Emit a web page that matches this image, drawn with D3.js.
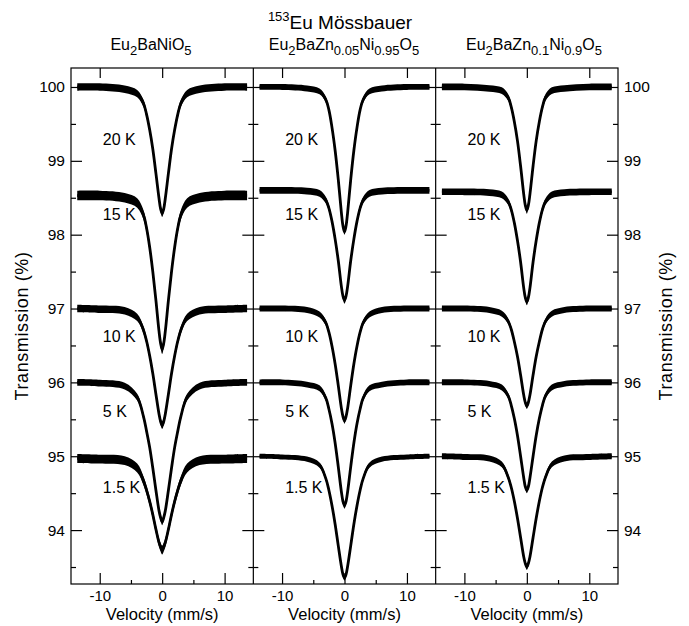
<!DOCTYPE html>
<html lang="en">
<meta charset="UTF-8">
<style>
    body { margin:0; background:#fff; }
    text { font-family:"Liberation Sans", Arial, Helvetica, sans-serif; fill:#000; }
    .frame { fill:none; stroke:#000; stroke-width:1.2; }
    .tick line { stroke:#000; stroke-width:1.2; }
</style>
<body>
<div id="chart"></div>
<script src="https://cdn.jsdelivr.net/npm/d3@7"></script>
<script>
    var velocity = [-13.6,-10,-6,-4,-3,-2.5,-2,-1.5,-1,-0.5,-0.25,0,0.25,0.5,1,1.5,2,2.5,3,4,6,10,13.6];
    var temps = ["20 K","15 K","10 K","5 K","1.5 K"];
    var xTicks = [-10,0,10];
    var xMinor = [-5,5];
    var yTicks = [94,95,96,97,98,99,100];
    var yMinor = [93.5,94.5,95.5,96.5,97.5,98.5,99.5];

    // Eu2BaNiO5, transmission (%)
    var ni_20 = [100,100,99.97,99.91,99.78,99.63,99.42,99.16,98.83,98.49,98.35,98.29,98.35,98.49,98.83,99.16,99.42,99.63,99.78,99.91,99.97,100,100];
    var ni_15 = [98.53,98.53,98.50,98.43,98.27,98.09,97.83,97.50,97.11,96.69,96.53,96.45,96.53,96.69,97.11,97.50,97.83,98.09,98.27,98.43,98.50,98.53,98.53];
    var ni_10 = [97,96.99,96.97,96.88,96.71,96.56,96.36,96.12,95.84,95.57,95.47,95.42,95.47,95.57,95.84,96.12,96.36,96.56,96.71,96.88,96.97,96.99,97];
    var ni_5  = [96,95.99,95.95,95.80,95.54,95.34,95.12,94.84,94.54,94.26,94.17,94.11,94.17,94.26,94.54,94.84,95.12,95.34,95.54,95.80,95.95,95.99,96];
    var ni_1  = [94.97,94.96,94.94,94.84,94.67,94.54,94.39,94.21,94.01,93.83,93.77,93.73,93.77,93.83,94.01,94.21,94.39,94.54,94.67,94.84,94.94,94.96,94.97];
    var ni_scatter = [0.05,0.065,0.05,0.045,0.06];

    // Eu2BaZn0.05Ni0.95O5
    var zn05_20 = [100,100,99.98,99.94,99.83,99.69,99.45,99.14,98.75,98.30,98.12,98.04,98.12,98.30,98.75,99.14,99.45,99.69,99.83,99.94,99.98,100,100];
    var zn05_15 = [98.6,98.6,98.59,98.56,98.47,98.36,98.18,97.94,97.65,97.30,97.17,97.11,97.17,97.30,97.65,97.94,98.18,98.36,98.47,98.56,98.59,98.6,98.6];
    var zn05_10 = [97,97,96.98,96.92,96.81,96.68,96.49,96.25,95.96,95.65,95.54,95.48,95.54,95.65,95.96,96.25,96.49,96.68,96.81,96.92,96.98,97,97];
    var zn05_5  = [96,96,95.97,95.92,95.79,95.64,95.44,95.18,94.86,94.52,94.39,94.33,94.39,94.52,94.86,95.18,95.44,95.64,95.79,95.92,95.97,96,96];
    var zn05_1  = [95,94.99,94.96,94.88,94.70,94.54,94.33,94.08,93.79,93.51,93.40,93.35,93.40,93.51,93.79,94.08,94.33,94.54,94.70,94.88,94.96,94.99,95];
    var zn05_scatter = [0.04,0.045,0.04,0.04,0.035];

    // Eu2BaZn0.1Ni0.9O5
    var zn1_20 = [100,100,99.98,99.95,99.86,99.73,99.53,99.27,98.93,98.55,98.40,98.33,98.40,98.55,98.93,99.27,99.53,99.73,99.86,99.95,99.98,100,100];
    var zn1_15 = [98.58,98.58,98.57,98.54,98.45,98.34,98.16,97.92,97.63,97.28,97.15,97.09,97.15,97.28,97.63,97.92,98.16,98.34,98.45,98.54,98.57,98.58,98.58];
    var zn1_10 = [97,97,96.98,96.93,96.83,96.72,96.55,96.35,96.10,95.83,95.73,95.68,95.73,95.83,96.10,96.35,96.55,96.72,96.83,96.93,96.98,97,97];
    var zn1_5  = [96,96,95.98,95.93,95.82,95.69,95.51,95.28,95.00,94.71,94.59,94.54,94.59,94.71,95.00,95.28,95.51,95.69,95.82,95.93,95.98,96,96];
    var zn1_1  = [95,94.99,94.97,94.89,94.72,94.58,94.39,94.16,93.90,93.64,93.55,93.50,93.55,93.64,93.90,94.16,94.39,94.58,94.72,94.89,94.97,94.99,95];
    var zn1_scatter = [0.045,0.045,0.04,0.04,0.04];

    // sample names as [text, subscript?] pieces
    var nameNi   = [["Eu",0],["2",1],["BaNiO",0],["5",1]];
    var nameZn05 = [["Eu",0],["2",1],["BaZn",0],["0.05",1],["Ni",0],["0.95",1],["O",0],["5",1]];
    var nameZn1  = [["Eu",0],["2",1],["BaZn",0],["0.1",1],["Ni",0],["0.9",1],["O",0],["5",1]];
    var nameX = [151, 344, 534];

    var panels = [
        {name:nameNi,   spectra:[ni_20,ni_15,ni_10,ni_5,ni_1],           scatter:ni_scatter},
        {name:nameZn05, spectra:[zn05_20,zn05_15,zn05_10,zn05_5,zn05_1], scatter:zn05_scatter},
        {name:nameZn1,  spectra:[zn1_20,zn1_15,zn1_10,zn1_5,zn1_1],      scatter:zn1_scatter}
    ];
    var labelY = [145,220,342,417,493];

    var width = 689, height = 626;
    var margin = {top:68, left:71, right:71, bottom:42};
    var pw = (width-margin.left-margin.right)/3;
    var bottom = height-margin.bottom;
    var plain = function(d){ return String(d); };

    var svg = d3.select("#chart").append("svg")
        .attr("width", width)
        .attr("height", height);

    var y = d3.scaleLinear()
        .domain([93.27,100.257])
        .range([bottom, margin.top]);

    panels.forEach(function(p, i){
        var x0 = margin.left + i*pw;
        var x = d3.scaleLinear().domain([-14.6,14.6]).range([x0, x0+pw]);
        var g = svg.append("g");

        g.append("clipPath").attr("id","clip"+i)
            .append("rect").attr("x",x0).attr("y",margin.top).attr("width",pw).attr("height",bottom-margin.top);

        var data = g.append("g").attr("clip-path","url(#clip"+i+")");
        p.spectra.forEach(function(s, k){
            var pts = s.map(function(t, j){ return [velocity[j], t]; });
            var band = d3.area()
                .x(function(d){ return x(d[0]); })
                .y0(function(d){ return y(d[1]-p.scatter[k]); })
                .y1(function(d){ return y(d[1]+p.scatter[k]); })
                .curve(d3.curveCatmullRom);
            var line = d3.line()
                .x(function(d){ return x(d[0]); })
                .y(function(d){ return y(d[1]); })
                .curve(d3.curveCatmullRom);
            data.append("path").attr("d", band(pts)).attr("fill","#000");
            data.append("path").attr("d", line(pts))
                .attr("fill","none").attr("stroke","#000").attr("stroke-width",2.8);
        });

        // temperature labels
        temps.forEach(function(t, k){
            g.append("text")
                .attr("x", x(-9.5))
                .attr("y", labelY[k])
                .attr("font-size", 16)
                .text(t);
        });

        // x axes
        var bot = g.append("g").attr("transform","translate(0,"+bottom+")")
            .call(d3.axisBottom(x).tickValues(xTicks).tickFormat(plain).tickSize(-11).tickPadding(6));
        bot.select(".domain").remove();
        bot.selectAll("text").attr("font-size",15).attr("font-family",null);
        var botMinor = g.append("g").attr("transform","translate(0,"+bottom+")")
            .call(d3.axisBottom(x).tickValues(xMinor).tickSize(-4).tickFormat(""));
        botMinor.select(".domain").remove();
        var top = g.append("g").attr("transform","translate(0,"+margin.top+")")
            .call(d3.axisTop(x).tickValues(xTicks).tickSize(-10).tickFormat(""));
        top.select(".domain").remove();

        g.append("text")
            .attr("x", x0+pw/2)
            .attr("y", 620)
            .attr("text-anchor","middle")
            .attr("font-size",16.5)
            .text("Velocity (mm/s)");

        // y ticks on both edges of every panel
        [[x0, d3.axisLeft, i==0], [x0+pw, d3.axisRight, i==2]].forEach(function(e){
            var ax = e[1](y).tickValues(yTicks).tickSize(-11).tickPadding(6)
                .tickFormat(e[2] ? plain : "");
            var a = g.append("g").attr("transform","translate("+e[0]+",0)").call(ax);
            a.select(".domain").remove();
            a.selectAll("text").attr("font-size",15.5).attr("font-family",null);
            var m = g.append("g").attr("transform","translate("+e[0]+",0)")
                .call(e[1](y).tickValues(yMinor).tickSize(-5).tickFormat(""));
            m.select(".domain").remove();
        });

        // sample name
        var nm = g.append("text")
            .attr("x", nameX[i])
            .attr("y", 50)
            .attr("text-anchor","middle")
            .attr("font-size",16);
        p.name.forEach(function(piece){
            var ts = nm.append("tspan").text(piece[0]);
            if (piece[1]) ts.attr("font-size",13).attr("dy",5);
            else ts.attr("dy", nm.selectAll("tspan").size()>1 ? -5 : 0);
        });
    });

    // frame and panel dividers
    svg.append("rect").attr("class","frame")
        .attr("x",margin.left).attr("y",margin.top)
        .attr("width",3*pw).attr("height",bottom-margin.top);
    [1,2].forEach(function(i){
        svg.append("line").attr("class","frame")
            .attr("x1",margin.left+i*pw).attr("x2",margin.left+i*pw)
            .attr("y1",margin.top).attr("y2",bottom);
    });

    // axis titles
    [28, 672].forEach(function(tx){
        svg.append("text")
            .attr("transform","translate("+tx+","+((margin.top+bottom)/2)+") rotate(-90)")
            .attr("text-anchor","middle").attr("font-size",18)
            .attr("letter-spacing",0.6)
            .text("Transmission (%)");
    });

    // main title
    var title = svg.append("text")
        .attr("x", 340).attr("y", 29)
        .attr("text-anchor","middle")
        .attr("font-size",19);
    title.append("tspan").attr("font-size",13).attr("dy",-8).text("153");
    title.append("tspan").attr("dy",8).text("Eu Mössbauer");
</script>
</body>
</html>
